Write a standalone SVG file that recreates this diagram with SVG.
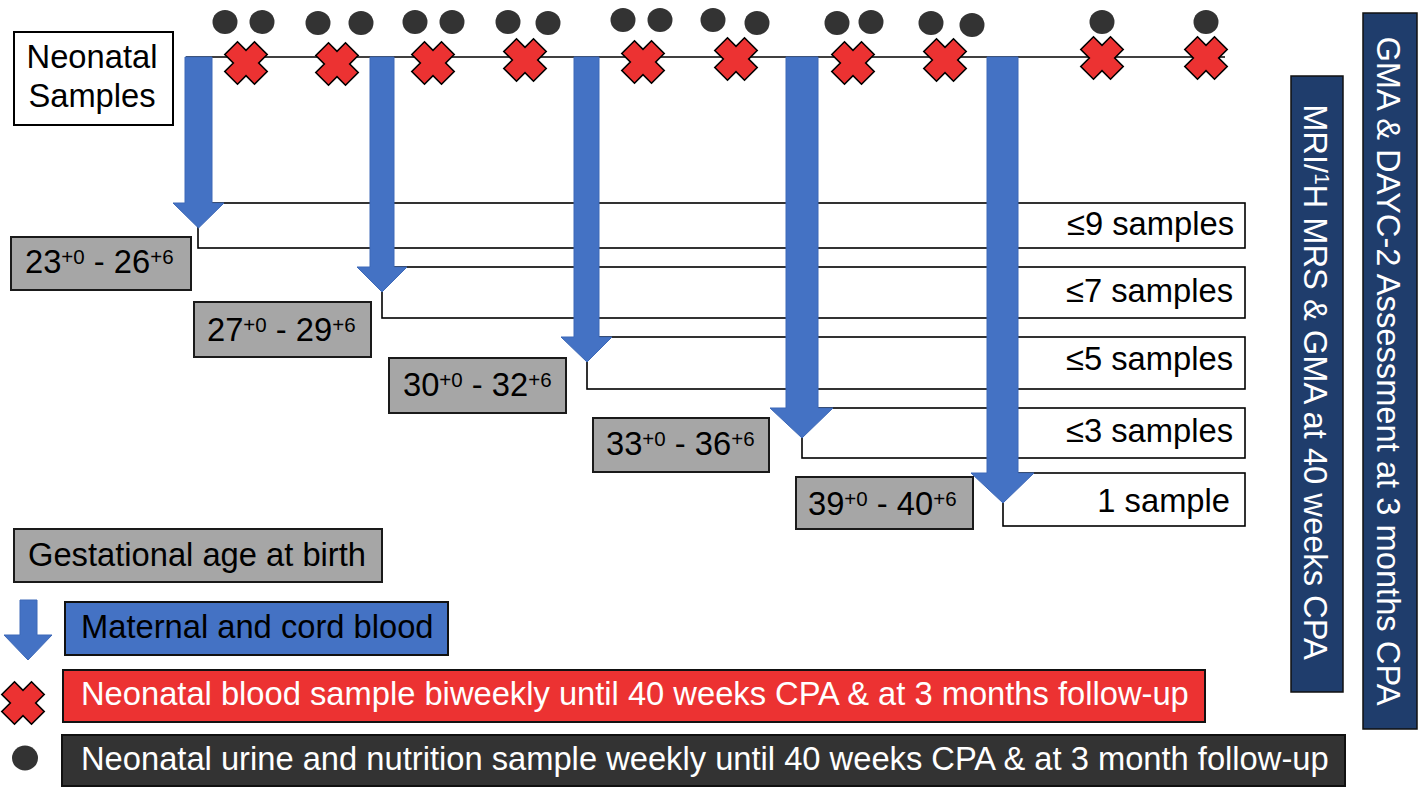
<svg xmlns="http://www.w3.org/2000/svg" width="1421" height="788" viewBox="0 0 1421 788">
<style>
text{font-family:"Liberation Sans",Arial,Helvetica,sans-serif;font-size:32.7px;fill:#000}
.w{fill:#fff}
.sup{font-size:20.5px}
.bar{fill:#fff;stroke:#000;stroke-width:1.6}
.ga{fill:#A6A6A6;stroke:#1a1a1a;stroke-width:2}
.blue{fill:#4472C4;stroke:#3D69B8;stroke-width:1}
.xr{fill:#EC3232;stroke:#000;stroke-width:1.6}
.dot{fill:#333333}
.navy{fill:#1F3D6C;stroke:#111;stroke-width:1.5}
.line{stroke:#000;stroke-width:1.6;fill:none}
</style>
<defs>
<polygon id="cross" points="21.2,-8.5 12.7,0 21.2,8.5 8.5,21.2 0,12.7 -8.5,21.2 -21.2,8.5 -12.7,0 -21.2,-8.5 -8.5,-21.2 0,-12.7 8.5,-21.2"/>
</defs>

<g id="sample-bars">
<g id="bar-9"><rect class="bar" x="198" y="203" width="1047" height="45"/><text x="1234" y="235" text-anchor="end">≤9 samples</text></g>
<g id="bar-7"><rect class="bar" x="382" y="267" width="863" height="51"/><text x="1233" y="302" text-anchor="end">≤7 samples</text></g>
<g id="bar-5"><rect class="bar" x="587" y="337" width="658" height="52"/><text x="1233" y="370" text-anchor="end">≤5 samples</text></g>
<g id="bar-3"><rect class="bar" x="802" y="408" width="443" height="50"/><text x="1233" y="442" text-anchor="end">≤3 samples</text></g>
<g id="bar-1"><rect class="bar" x="1003" y="473" width="242" height="53"/><text x="1230" y="512" text-anchor="end">1 sample</text></g>
</g>

<g id="ga-boxes">
<g id="ga-23"><rect class="ga" x="11" y="237" width="180" height="53"/><text x="25" y="273">23<tspan class="sup" dy="-9">+0</tspan><tspan dy="9"> - 26</tspan><tspan class="sup" dy="-9">+6</tspan></text></g>
<g id="ga-27"><rect class="ga" x="194" y="302" width="177" height="55"/><text x="207" y="341">27<tspan class="sup" dy="-9">+0</tspan><tspan dy="9"> - 29</tspan><tspan class="sup" dy="-9">+6</tspan></text></g>
<g id="ga-30"><rect class="ga" x="389" y="358" width="177" height="55"/><text x="403" y="396">30<tspan class="sup" dy="-9">+0</tspan><tspan dy="9"> - 32</tspan><tspan class="sup" dy="-9">+6</tspan></text></g>
<g id="ga-33"><rect class="ga" x="593" y="418" width="176" height="54"/><text x="606" y="455">33<tspan class="sup" dy="-9">+0</tspan><tspan dy="9"> - 36</tspan><tspan class="sup" dy="-9">+6</tspan></text></g>
<g id="ga-39"><rect class="ga" x="796" y="477" width="177" height="52"/><text x="808" y="515">39<tspan class="sup" dy="-9">+0</tspan><tspan dy="9"> - 40</tspan><tspan class="sup" dy="-9">+6</tspan></text></g>
</g>

<g id="neonatal-samples">
<rect x="14" y="32" width="159" height="93" fill="#fff" stroke="#000" stroke-width="2"/>
<text x="92" y="68" text-anchor="middle">Neonatal</text>
<text x="92" y="107" text-anchor="middle">Samples</text>
</g>

<g id="connectors">
<line class="line" x1="186" y1="57" x2="1225" y2="57"/>
<polygon class="blue" points="185,57 212,57 212,203 224,203 198.5,228 173,203 185,203"/>
<polygon class="blue" points="370,57 394,57 394,267 407,267 382,292 357,267 370,267"/>
<polygon class="blue" points="574,57 599,57 599,337 612,337 587,362 561,337 574,337"/>
<polygon class="blue" points="786,57 818,57 818,408 833,408 802,438 770,408 786,408"/>
<polygon class="blue" points="987,57 1018,57 1018,473 1034,473 1003,503 971,473 987,473"/>
</g>

<g id="blood-samples">
<use href="#cross" class="xr" x="246" y="63"/>
<use href="#cross" class="xr" x="337" y="64"/>
<use href="#cross" class="xr" x="433" y="63"/>
<use href="#cross" class="xr" x="525" y="60"/>
<use href="#cross" class="xr" x="643" y="62"/>
<use href="#cross" class="xr" x="736" y="59"/>
<use href="#cross" class="xr" x="853" y="63"/>
<use href="#cross" class="xr" x="945" y="60"/>
<use href="#cross" class="xr" x="1102" y="58"/>
<use href="#cross" class="xr" x="1206" y="58"/>
</g>

<g id="urine-samples">
<ellipse class="dot" cx="225" cy="22" rx="12.5" ry="12"/>
<ellipse class="dot" cx="262" cy="22" rx="12.5" ry="12"/>
<ellipse class="dot" cx="318" cy="23" rx="12.5" ry="12"/>
<ellipse class="dot" cx="361" cy="23" rx="12.5" ry="12"/>
<ellipse class="dot" cx="415" cy="22" rx="12.5" ry="12"/>
<ellipse class="dot" cx="452" cy="22" rx="12.5" ry="12"/>
<ellipse class="dot" cx="508" cy="22" rx="12.5" ry="12"/>
<ellipse class="dot" cx="548" cy="23" rx="12.5" ry="12"/>
<ellipse class="dot" cx="623" cy="20" rx="12.5" ry="12"/>
<ellipse class="dot" cx="660" cy="20" rx="12.5" ry="12"/>
<ellipse class="dot" cx="713" cy="20" rx="12.5" ry="12"/>
<ellipse class="dot" cx="757" cy="23" rx="12.5" ry="12"/>
<ellipse class="dot" cx="837" cy="23" rx="12.5" ry="12"/>
<ellipse class="dot" cx="871" cy="22" rx="12.5" ry="12"/>
<ellipse class="dot" cx="931" cy="23" rx="12.5" ry="12"/>
<ellipse class="dot" cx="972" cy="25" rx="12.5" ry="12"/>
<ellipse class="dot" cx="1102" cy="22" rx="12.5" ry="12"/>
<ellipse class="dot" cx="1206" cy="22" rx="12.5" ry="12"/>
</g>

<g id="mri-box">
<rect class="navy" x="1291" y="76" width="52" height="616"/>
<text class="w" transform="translate(1304,382) rotate(90)" text-anchor="middle">MRI/<tspan class="sup" dy="-11">1</tspan><tspan dy="11">H MRS &amp; GMA at 40 weeks CPA</tspan></text>
</g>

<g id="dayc-box">
<rect class="navy" x="1363" y="13" width="54" height="716"/>
<text class="w" transform="translate(1377,371) rotate(90)" text-anchor="middle">GMA &amp; DAYC-2 Assessment at 3 months CPA</text>
</g>

<g id="legend">
<g id="legend-ga"><rect class="ga" x="14" y="529" width="368" height="53"/><text x="28" y="566">Gestational age at birth</text></g>
<g id="legend-cord"><polygon class="blue" points="20,600 37,600 37,635 52,635 28,660 4,635 20,635"/><rect x="65" y="602" width="383" height="53" fill="#4472C4" stroke="#111" stroke-width="2"/><text x="81" y="638">Maternal and cord blood</text></g>
<g id="legend-blood"><use href="#cross" class="xr" x="23" y="703"/><rect x="63" y="670" width="1142" height="52" fill="#EC3232" stroke="#111" stroke-width="2"/><text class="w" x="81" y="705">Neonatal blood sample biweekly until 40 weeks CPA &amp; at 3 months follow-up</text></g>
<g id="legend-urine"><ellipse class="dot" cx="25" cy="758" rx="13" ry="12.5"/><rect x="62" y="735" width="1283" height="51" fill="#333333" stroke="#111" stroke-width="2"/><text class="w" x="81" y="770">Neonatal urine and nutrition sample weekly until 40 weeks CPA &amp; at 3 month follow-up</text></g>
</g>
</svg>
